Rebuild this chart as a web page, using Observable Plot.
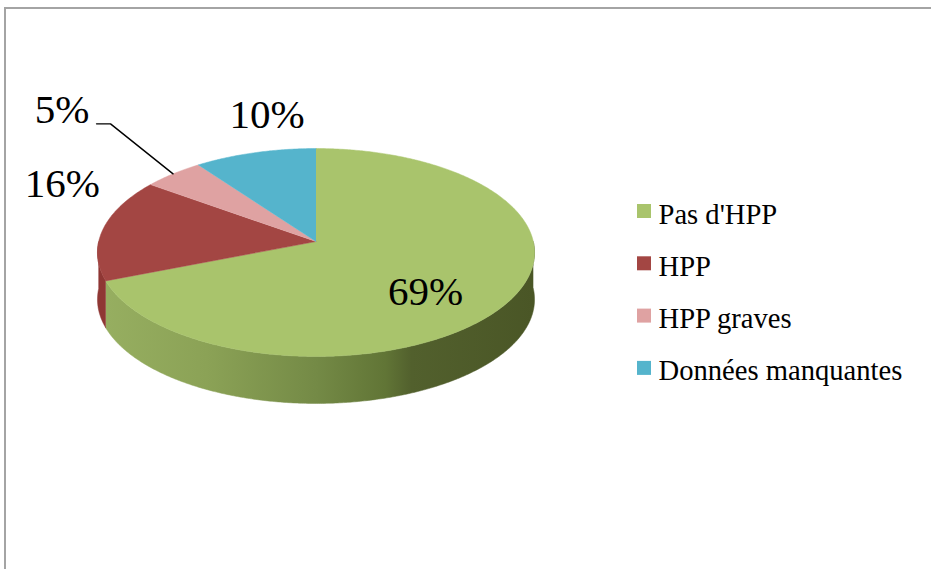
<!DOCTYPE html>
<html><head><meta charset="utf-8">
<script src="https://cdn.jsdelivr.net/npm/d3@7"></script>
<script src="https://cdn.jsdelivr.net/npm/@observablehq/plot@0.6"></script>
<style>
html,body{margin:0;padding:0;background:#fff;overflow:hidden;}
#wrap{position:relative;width:931px;height:569px;overflow:hidden;background:#fff;}
#border{position:absolute;left:4px;top:7px;width:1000px;height:1000px;border:2px solid #a4a4a4;box-sizing:border-box;}
#chart{position:absolute;left:0;top:0;}
</style></head><body>
<div id="wrap"><div id="border"></div><div id="chart"></div></div>
<script>
// ---- data ----
const categories = ["Pas d'HPP", "HPP", "HPP graves", "Données manquantes"];
const values = [69, 16, 5, 10];
const labels = ["69%", "16%", "5%", "10%"];

// ---- styles ----
const topColors = ["#A9C46C", "#A34643", "#DFA2A2", "#55B4CC"];
const sideFills = ["url(#sideGreen)", "#8F3734", "#C48887", "#3F8FA3"];

// ---- 3D pie projection ----
const G = {cx: 315.5, cy: 241, fx: 217.3, fy: 102.8, p: 0.1058, depth: 47};
function proj(theta, k = 1) {
  const X = k * Math.sin(theta), Z = k * Math.cos(theta);
  const w = 1 + G.p * Z;
  return [G.cx + G.fx * X / w, G.cy - G.fy * Z / w];
}
const total = d3.sum(values);
const angles = [];
let acc = 0;
values.forEach((v, i) => {
  const a0 = acc / total * 2 * Math.PI;
  acc += v;
  const a1 = acc / total * 2 * Math.PI;
  angles.push({i, cat: categories[i], a0, a1, mid: (a0 + a1) / 2});
});

function arcPts(a0, a1, dy = 0) {
  const n = Math.max(2, Math.ceil((a1 - a0) / (Math.PI / 360)));
  const pts = [];
  for (let j = 0; j <= n; j++) {
    const t = a0 + (a1 - a0) * j / n;
    const [x, y] = proj(t);
    pts.push({x, y: y + dy});
  }
  return pts;
}

// top faces
const topRows = [];
angles.forEach(s => {
  topRows.push({cat: s.cat, x: G.cx, y: G.cy});
  arcPts(s.a0, s.a1).forEach(p => topRows.push({cat: s.cat, ...p}));
});

// sides (front half only)
const sideMarks = [];
angles.forEach(s => {
  const b0 = Math.max(s.a0, Math.PI / 2), b1 = Math.min(s.a1, 3 * Math.PI / 2);
  if (b1 > b0) {
    const pts = arcPts(b0, b1).concat(arcPts(b0, b1, G.depth).reverse());
    sideMarks.push(Plot.line(pts, {x: "x", y: "y", fill: sideFills[s.i], stroke: sideFills[s.i], strokeWidth: 0.5}));
  }
});

// shadow
const shadowPts = arcPts(Math.PI / 2 - 0.3, 3 * Math.PI / 2 + 0.3, G.depth + 4).map(p => ({x: p.x + 2, y: p.y}));

// data labels
const labelOffsets = [[-6, 13, 0.62], [-41, -45, 1], [-111, -64, 1], [12, -38, 1]];
const labelRows = angles.map(s => {
  const [dx, dy, k] = labelOffsets[s.i];
  const [x, y] = proj(s.mid, k);
  return {text: labels[s.i], x: x + dx, y: y + dy, rim: proj(s.mid)};
});
const pink = labelRows[2];
const leader = [
  {x: pink.rim[0], y: pink.rim[1]},
  {x: pink.x + 48.5, y: pink.y + 14},
  {x: pink.x + 34.5, y: pink.y + 14}
];

const defsMark = () => {
  const defs = d3.create("svg:defs");
  const g = defs.append("linearGradient").attr("id", "sideGreen")
    .attr("gradientUnits", "userSpaceOnUse")
    .attr("x1", G.cx - G.fx).attr("x2", G.cx + G.fx).attr("y1", 0).attr("y2", 0);
  [[0, "#97AF61"], [0.25, "#8BA256"], [0.5, "#748A46"], [0.66, "#617536"], [0.72, "#52602D"], [1, "#4A5626"]]
    .forEach(([o, c]) => g.append("stop").attr("offset", o).attr("stop-color", c));
  defs.append("filter").attr("id", "blurShadow").attr("x", "-20%").attr("y", "-20%").attr("width", "140%").attr("height", "140%")
    .append("feGaussianBlur").attr("stdDeviation", 3);
  return defs.node();
};

const legendTop = 204, legendStep = 52.3;
const chart = Plot.plot({
  width: 931,
  height: 569,
  margin: 0,
  x: {domain: [0, 931], range: [0, 931], axis: null},
  y: {domain: [0, 569], range: [0, 569], axis: null},
  color: {domain: categories, range: topColors},
  marks: [
    defsMark,
    Plot.line(shadowPts, {x: "x", y: "y", fill: "#8a8a8a", fillOpacity: 0.7, stroke: "none", ariaLabel: "shadow"}),
    ...sideMarks,
    Plot.line(topRows, {x: "x", y: "y", z: "cat", fill: "cat", stroke: "cat", strokeWidth: 0.5}),
    Plot.text(labelRows, {x: "x", y: "y", text: "text", fontFamily: "Liberation Serif", fontSize: 41, fill: "#000", textAnchor: "middle", lineAnchor: "middle"}),
    Plot.line(leader, {x: "x", y: "y", stroke: "#000", strokeWidth: 1.4}),
    Plot.rect(categories, {x1: () => 637, x2: () => 651, y1: (d, i) => legendTop + i * legendStep, y2: (d, i) => legendTop + i * legendStep + 14, fill: d => d}),
    Plot.text(categories, {x: () => 658, y: (d, i) => legendTop + 19 + i * legendStep, text: d => d, textAnchor: "start", lineAnchor: "bottom", fontFamily: "Liberation Serif", fontSize: 28.6, fill: "#000"})
  ]
});
d3.select(chart).selectAll("g[aria-label='shadow']").attr("filter", "url(#blurShadow)");
d3.select(chart).style("background", "transparent");
document.getElementById("chart").appendChild(chart);
</script>
</body></html>
